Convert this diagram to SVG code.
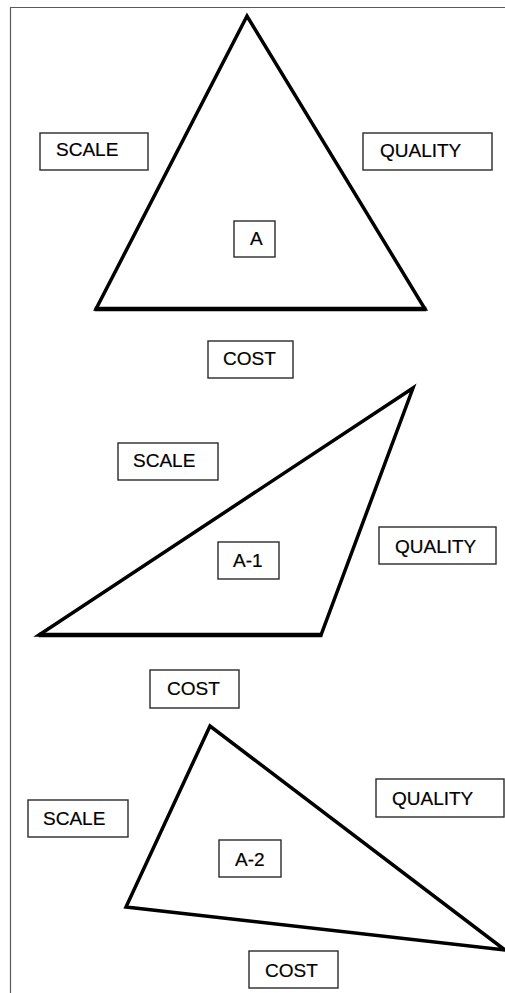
<svg xmlns="http://www.w3.org/2000/svg" width="505" height="993" viewBox="0 0 505 993">
  <style>
    .frame { fill: none; stroke: #5a5a5a; stroke-width: 1.2; }
    .tri { fill: none; stroke: #000; stroke-width: 3.5; stroke-linejoin: miter; }
    .base { stroke: #000; stroke-width: 4.5; stroke-linecap: square; }
    .box { fill: #fff; stroke: #2a2a2a; stroke-width: 1.4; }
    .lbl { font-family: "Liberation Sans", Arial, sans-serif; font-size: 19px; fill: #000; stroke: #000; stroke-width: 0.2; }
  </style>
  <rect width="505" height="993" fill="#fff"/>
  <!-- page frame -->
  <path class="frame" d="M10.5,993 V7.5 H505"/>

  <!-- triangle A -->
  <g id="triangle-a">
    <polygon class="tri" points="247,16 96,309 425,309"/>
    <line class="base" x1="97" y1="309" x2="424" y2="309"/>
  </g>
  <g id="a-scale"><rect class="box" x="40" y="133" width="108" height="37"/><text class="lbl" x="56" y="156">SCALE</text></g>
  <g id="a-quality"><rect class="box" x="363" y="133" width="129" height="37"/><text class="lbl" x="380" y="157">QUALITY</text></g>
  <g id="a-label"><rect class="box" x="234" y="221" width="41" height="36"/><text class="lbl" x="250" y="245">A</text></g>
  <g id="a-cost"><rect class="box" x="208" y="341" width="85" height="37"/><text class="lbl" x="223" y="365">COST</text></g>

  <!-- triangle A-1 -->
  <g id="triangle-a1">
    <polygon class="tri" points="413,388 39,635 321,635"/>
    <line class="base" x1="41" y1="635" x2="320" y2="635"/>
  </g>
  <g id="a1-scale"><rect class="box" x="118" y="443" width="100" height="37"/><text class="lbl" x="133" y="467">SCALE</text></g>
  <g id="a1-label"><rect class="box" x="218" y="542" width="61" height="37"/><text class="lbl" x="233" y="567">A-1</text></g>
  <g id="a1-quality"><rect class="box" x="379" y="527" width="117" height="37"/><text class="lbl" x="395" y="553">QUALITY</text></g>
  <g id="a1-cost"><rect class="box" x="150" y="670" width="89" height="38"/><text class="lbl" x="167" y="695">COST</text></g>

  <!-- triangle A-2 -->
  <g id="triangle-a2">
    <polygon class="tri" points="210,726 126,907 505,950"/>
  </g>
  <g id="a2-scale"><rect class="box" x="28" y="800" width="100" height="37"/><text class="lbl" x="43" y="825">SCALE</text></g>
  <g id="a2-quality"><rect class="box" x="376" y="779" width="128" height="38"/><text class="lbl" x="392" y="805">QUALITY</text></g>
  <g id="a2-label"><rect class="box" x="219" y="840" width="62" height="37"/><text class="lbl" x="235" y="866">A-2</text></g>
  <g id="a2-cost"><rect class="box" x="249" y="951" width="89" height="37"/><text class="lbl" x="265" y="977">COST</text></g>
</svg>
